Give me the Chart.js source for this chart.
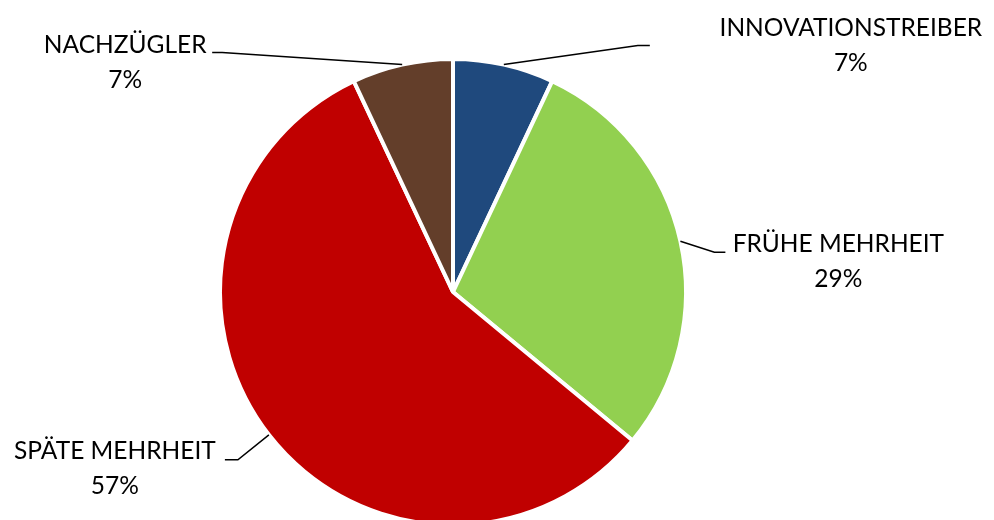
<!DOCTYPE html>
<html>
<head>
<meta charset="utf-8">
<script src="https://cdn.jsdelivr.net/npm/chart.js@4"></script>
<style>
  html, body { margin: 0; padding: 0; background: #fff; overflow: hidden; }
  #wrap { width: 994px; height: 520px; overflow: hidden; }
</style>
</head>
<body>
<div id="wrap"><canvas id="kuchen" width="994" height="530"></canvas></div>
<script>
const kategorien = ['INNOVATIONSTREIBER', 'FRÜHE MEHRHEIT', 'SPÄTE MEHRHEIT', 'NACHZÜGLER'];
const anteile = [7, 29, 57, 7];
const farben = ['#1F497D', '#92D050', '#C00000', '#633E2A'];

// Beschriftung: Knick der Linie, Ende der Linie, Textmitte (relativ zum Startpunkt am Rand)
const beschriftung = [
    { knick: [134, -19], ende: [146, -19], text: [347, -20] },
    { knick: [34, 11], ende: [45, 11], text: [158, 20] },
    { knick: [-31, 25], ende: [-44, 25], text: [-154, 33] },
    { knick: [-180, -12], ende: [-190, -12], text: [-277, -3] }
];

const ctx = document.getElementById('kuchen');

const labelPlugin = {
    id: 'labelPlugin',
    afterDatasetsDraw(chart) {
        const c = chart.ctx;
        const meta = chart.getDatasetMeta(0);
        const total = anteile.reduce((a, b) => a + b, 0);
        c.save();
        meta.data.forEach((arc, i) => {
            const mid = (arc.startAngle + arc.endAngle) / 2;
            const sx = arc.x + Math.cos(mid) * arc.outerRadius;
            const sy = arc.y + Math.sin(mid) * arc.outerRadius;
            const b = beschriftung[i];
            c.strokeStyle = '#000';
            c.lineWidth = 1.5;
            c.beginPath();
            c.moveTo(sx, sy);
            c.lineTo(sx + b.knick[0], sy + b.knick[1]);
            c.lineTo(sx + b.ende[0], sy + b.ende[1]);
            c.stroke();
            const tx = sx + b.text[0];
            const ty = sy + b.text[1];
            c.fillStyle = '#000';
            c.font = '24.5px Lato';
            c.textAlign = 'center';
            c.textBaseline = 'middle';
            c.fillText(kategorien[i], tx, ty - 17);
            c.fillText(Math.round(anteile[i] / total * 100) + '%', tx, ty + 18);
        });
        c.restore();
    }
};

new Chart(ctx, {
    type: 'pie',
    data: {
        labels: kategorien,
        datasets: [{
            data: anteile,
            backgroundColor: farben,
            borderColor: '#fff',
            borderWidth: 4
        }]
    },
    options: {
        responsive: false,
        animation: false,
        layout: {
            padding: { left: 218, right: 306, top: 57, bottom: 3 }
        },
        plugins: {
            legend: { display: false },
            tooltip: { enabled: false }
        }
    },
    plugins: [labelPlugin]
});
</script>
</body>
</html>
